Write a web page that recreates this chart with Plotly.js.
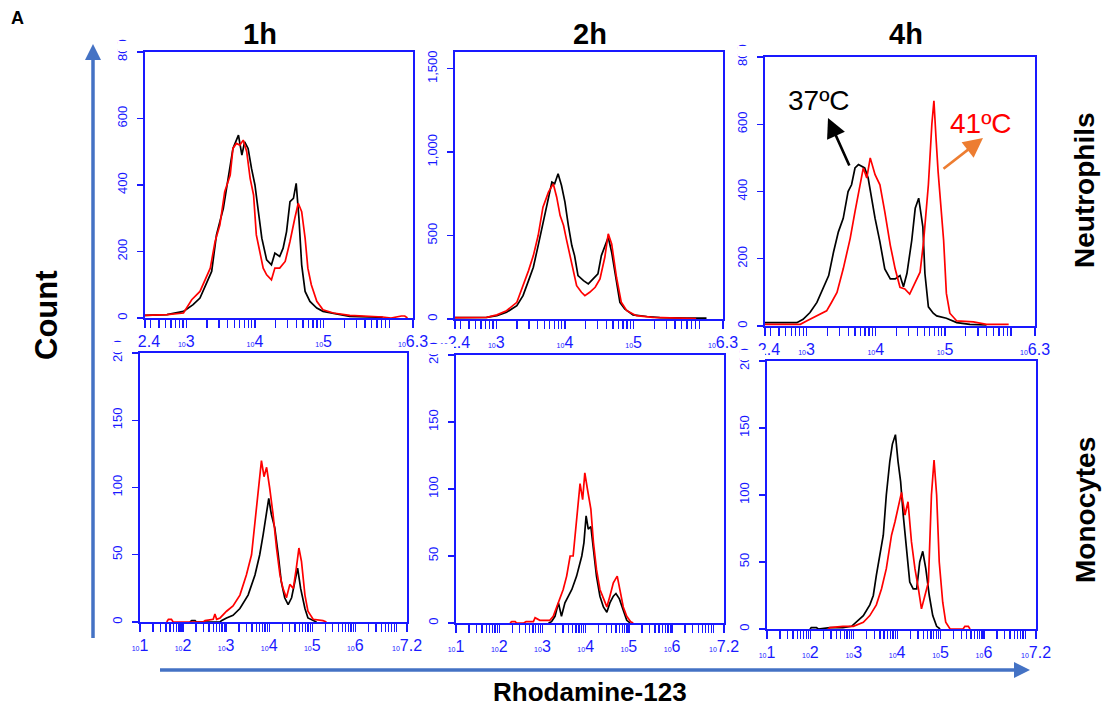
<!DOCTYPE html>
<html>
<head>
<meta charset="utf-8">
<script src="https://cdn.plot.ly/plotly-3.0.1.min.js"></script>
<style>html,body{margin:0;padding:0;background:#fff;}#chart{width:1105px;height:711px;}</style>
</head>
<body>
<div id="chart"></div>
<script>
// ---------------- DATA (x values as log10 exponents of Rhodamine-123 intensity, y = count) ----------------
// Neutrophils 1h
const neu1h_37_e = [2.40,2.72,2.96,3.10,3.20,3.37,3.44,3.54,3.61,3.68,3.76,3.81,3.85,3.90,3.95,4.00,4.05,4.10,4.17,4.24,4.29,4.36,4.41,4.46,4.51,4.56,4.60,4.64,4.68,4.73,4.80,4.90,4.99,5.14,5.38,5.86];
const neu1h_37_y = [8,10,20,40,60,140,250,330,420,510,550,490,530,510,450,400,320,240,175,160,195,185,210,260,350,360,405,300,160,80,50,30,20,15,5,2];
const neu1h_41_e = [2.40,2.72,2.96,3.08,3.20,3.35,3.42,3.49,3.56,3.64,3.68,3.73,3.78,3.83,3.88,3.93,3.98,4.02,4.07,4.12,4.17,4.24,4.29,4.36,4.44,4.51,4.58,4.63,4.68,4.73,4.77,4.82,4.90,4.99,5.14,5.38,5.86,5.98,6.13,6.18,6.22];
const neu1h_41_y = [8,10,15,55,80,150,230,280,380,430,510,525,520,535,500,420,370,250,200,150,130,115,150,150,170,230,300,345,320,240,150,100,50,25,15,8,3,0,6,6,0];
// Neutrophils 2h
const neu2h_37_e = [2.40,2.86,3.01,3.15,3.30,3.39,3.47,3.54,3.61,3.68,3.76,3.81,3.85,3.90,3.95,4.00,4.05,4.10,4.14,4.19,4.27,4.34,4.41,4.48,4.53,4.58,4.63,4.68,4.75,4.80,4.87,4.99,5.19,5.38,5.77,6.06];
const neu2h_37_y = [8,10,20,40,80,140,230,310,440,570,720,820,810,870,800,700,560,440,380,260,230,210,240,270,380,440,490,400,230,100,60,25,15,8,5,5];
const neu2h_41_e = [2.40,2.86,3.01,3.15,3.30,3.39,3.47,3.54,3.61,3.68,3.76,3.83,3.88,3.93,3.98,4.02,4.10,4.17,4.24,4.29,4.36,4.44,4.51,4.58,4.63,4.68,4.75,4.82,4.90,5.04,5.28,5.57,5.91];
const neu2h_41_y = [8,10,25,50,100,200,290,380,500,670,760,810,730,620,560,480,330,200,160,140,160,190,240,370,510,450,250,100,50,20,10,5,3];
// Neutrophils 4h
const neu4h_37_e = [2.40,2.86,2.95,3.05,3.15,3.24,3.32,3.39,3.46,3.53,3.60,3.65,3.70,3.75,3.80,3.84,3.89,3.94,3.99,4.06,4.13,4.21,4.28,4.35,4.40,4.45,4.52,4.57,4.62,4.68,4.71,4.76,4.83,4.88,5.02,5.17,5.36,5.60];
const neu4h_37_y = [10,10,20,40,70,110,150,220,280,320,400,420,470,480,475,470,440,380,320,250,170,140,140,150,117,156,255,350,380,295,156,57,38,30,23,10,5,3];
const neu4h_41_e = [2.40,2.91,3.00,3.15,3.29,3.36,3.44,3.53,3.63,3.70,3.77,3.82,3.87,3.92,3.99,4.06,4.13,4.21,4.28,4.35,4.42,4.49,4.57,4.64,4.69,4.76,4.81,4.84,4.87,4.90,4.98,5.02,5.07,5.17,5.41,5.60,5.92];
const neu4h_41_y = [5,5,15,30,45,70,100,170,260,340,420,470,440,500,450,420,340,240,170,115,110,95,130,160,250,420,600,670,560,460,255,97,38,15,12,5,5];
// Monocytes 1h
const mon1h_37_e = [2.16,2.20,2.28,2.31,2.86,2.89,3.01,3.16,3.32,3.51,3.67,3.78,3.86,3.94,3.99,4.05,4.13,4.21,4.28,4.36,4.44,4.52,4.59,4.66,4.73,4.83,4.90,5.02,5.10];
const mon1h_37_y = [0,1,1,0,0,1,3,5,10,20,35,50,65,80,92,80,70,50,30,18,13,18,28,40,25,10,3,1,0];
const mon1h_41_e = [1.62,1.66,1.73,1.77,2.47,2.51,2.70,2.74,2.78,2.86,3.01,3.16,3.32,3.47,3.59,3.67,3.74,3.82,3.88,3.94,4.01,4.09,4.17,4.25,4.32,4.40,4.48,4.56,4.63,4.69,4.75,4.83,4.90,5.02,5.25,5.33];
const mon1h_41_y = [0,2,2,0,0,1,2,6,2,3,8,12,20,35,50,75,100,120,108,115,100,80,55,35,25,18,28,25,40,55,45,20,8,2,1,0];
// Monocytes 2h
const mon2h_37_e = [3.14,3.21,3.29,3.37,3.44,3.52,3.60,3.68,3.79,3.91,3.96,4.01,4.06,4.12,4.18,4.25,4.33,4.41,4.49,4.56,4.64,4.70,4.78,4.86,4.95,5.03];
const mon2h_37_y = [0,1,5,15,5,15,20,25,35,50,60,80,70,72,55,35,20,12,8,15,20,22,18,10,2,0];
const mon2h_41_e = [2.25,2.29,2.37,2.40,2.57,2.62,2.79,2.83,2.94,3.17,3.25,3.33,3.41,3.48,3.56,3.64,3.71,3.79,3.87,3.93,3.98,4.04,4.12,4.18,4.25,4.33,4.41,4.49,4.56,4.64,4.73,4.79,4.87,4.95,5.04,5.10];
const mon2h_41_y = [0,1,1,0,0,1,1,4,2,2,5,12,20,25,35,50,50,80,104,92,112,100,85,60,40,25,18,12,20,30,35,25,12,5,1,0];
// Monocytes 4h
const mon4h_37_e = [1.99,2.02,2.14,2.18,2.45,2.75,2.95,3.06,3.22,3.37,3.45,3.52,3.60,3.68,3.75,3.83,3.89,3.96,4.02,4.08,4.14,4.22,4.29,4.37,4.45,4.52,4.59,4.66,4.74,4.82,4.91,4.99];
const mon4h_37_y = [0,1,1,0,1,1,2,5,10,18,25,40,55,70,100,125,138,145,125,110,85,55,35,30,30,50,58,45,25,10,2,0];
const mon4h_41_e = [2.41,2.45,2.75,2.99,3.22,3.37,3.52,3.64,3.75,3.87,3.95,4.02,4.10,4.18,4.25,4.33,4.41,4.49,4.56,4.64,4.72,4.79,4.85,4.91,4.97,5.05,5.12,5.22,5.52,5.56,5.64,5.68];
const mon4h_41_y = [0,1,2,2,5,10,18,30,45,70,80,90,102,85,95,65,45,30,15,25,35,100,126,100,50,20,5,0,0,2,2,0];

// Tick labels
const colTitles = ['1h','2h','4h'];
const rowTitles = ['Neutrophils','Monocytes'];
const topXExp = [2.4,3,4,5,6.3];
const topXLabels = ['2.4','3','4','5','6.3'];
const botXExp = [1,2,3,4,5,6,7.2];
const botXLabels = ['1','2','3','4','5','6','7.2'];
const yTicks1 = [0,200,400,600,800];
const yTicks2 = [0,500,1000,1500];
const yLabels2 = ['0','500','1,000','1,500'];
const yTicksMono = [0,50,100,150,200];
const yMax = [800,1600,800,200,200,200];

// ---------------- LAYOUT HELPERS ----------------
const W = 1105, H = 711;
const px = x => x / W;
const py = y => 1 - y / H;
const BLUE = 'rgb(25,25,255)';
const ARROWBLUE = '#4472C4';

// panel frames in pixels [left, right, top, bottom]
const frames = [
  [145,413,52,318],[455,723,52,319],[765,1035,57,326],
  [140,407,353,622],[456,724,355,623],[767,1036,361,629]
];

function minorVals(lo, hi){
  const out=[];
  for(let d=Math.floor(lo); d<=Math.ceil(hi); d++){
    for(let k=2;k<=9;k++){
      const v=k*Math.pow(10,d);
      const l=Math.log10(v);
      if(l>lo+0.005 && l<hi-0.005) out.push(v);
    }
  }
  return out;
}
const tickTxt = s => '<span style="font-size:7px">10</span>' + s;

const series = [
  [neu1h_37_e,neu1h_37_y,neu1h_41_e,neu1h_41_y],
  [neu2h_37_e,neu2h_37_y,neu2h_41_e,neu2h_41_y],
  [neu4h_37_e,neu4h_37_y,neu4h_41_e,neu4h_41_y],
  [mon1h_37_e,mon1h_37_y,mon1h_41_e,mon1h_41_y],
  [mon2h_37_e,mon2h_37_y,mon2h_41_e,mon2h_41_y],
  [mon4h_37_e,mon4h_37_y,mon4h_41_e,mon4h_41_y]
];

const traces=[];
const layout={
  width:W,height:H,margin:{l:0,r:0,t:0,b:0},
  paper_bgcolor:'#fff',plot_bgcolor:'#fff',showlegend:false,
  font:{family:'Liberation Sans, Arial, sans-serif',color:'#000'},
  shapes:[],annotations:[]
};

series.forEach((s,i)=>{
  const n = i+1;
  const xa = n===1?'x':'x'+n, ya = n===1?'y':'y'+n;
  const toX = arr => arr.map(e=>Math.pow(10,e));
  traces.push({x:toX(s[0]),y:s[1],xaxis:xa,yaxis:ya,mode:'lines',line:{color:'#000',width:1.7},hoverinfo:'skip'});
  traces.push({x:toX(s[2]),y:s[3],xaxis:xa,yaxis:ya,mode:'lines',line:{color:'#ff0000',width:1.7},hoverinfo:'skip'});
  const f = frames[i];
  const top = i<3;
  const lo = top?2.4:1, hi = top?6.3:7.2;
  const xe = top?topXExp:botXExp, xl = top?topXLabels:botXLabels;
  let yv, yt;
  if(i===1){yv=yTicks2;yt=yLabels2;}
  else if(top){yv=yTicks1;yt=yTicks1.map(String);}
  else {yv=yTicksMono;yt=yTicksMono.map(String);}
  layout['xaxis'+(n===1?'':n)] = {
    domain:[px(f[0]),px(f[1])], anchor:ya, type:'log', range:[lo,hi],
    showline:true, linecolor:BLUE, linewidth:1.6, mirror:true,
    showgrid:false, zeroline:false,
    ticks:'outside', ticklen:8, tickcolor:BLUE, tickwidth:1.3,
    tickmode:'array', tickvals:xe.map(e=>Math.pow(10,e)), ticktext:xl.map(tickTxt),
    tickfont:{family:'Liberation Sans, Arial, sans-serif',size:16,color:BLUE},
    ticklabelstandoff:0,
    minor:{tickmode:'array',tickvals:minorVals(lo,hi),ticks:'outside',ticklen:8,tickcolor:BLUE,tickwidth:1.3,showgrid:false}
  };
  layout['yaxis'+(n===1?'':n)] = {
    domain:[py(f[3]),py(f[2])], anchor:xa, range:[0,yMax[i]],
    showline:true, linecolor:BLUE, linewidth:1.6, mirror:true,
    showgrid:false, zeroline:false,
    ticks:'outside', ticklen:6, tickcolor:BLUE, tickwidth:1.3,
    tickmode:'array', tickvals:yv, ticktext:yt, tickangle:-90,
    tickfont:{family:'Liberation Sans, Arial, sans-serif',size:13,color:BLUE},
    ticklabelstandoff:5
  };
  // clip tick labels sticking above the frame (as in the cropped reference panels)
  layout.shapes.push({type:'rect',xref:'paper',yref:'paper',layer:'above',
    x0:px(f[0]-27),x1:px(f[0]-2),y0:py(f[2]-1),y1:py(f[2]-11),fillcolor:'#fff',line:{width:0}});
});

// Column titles
[[260,34],[590,34],[906,34]].forEach((p,i)=>{
  layout.annotations.push({xref:'paper',yref:'paper',x:px(p[0]),y:py(p[1]),xanchor:'center',yanchor:'middle',
    text:'<b>'+colTitles[i]+'</b>',showarrow:false,font:{size:29,color:'#000'}});
});
// Row titles
[[1085,190],[1085,510]].forEach((p,i)=>{
  layout.annotations.push({xref:'paper',yref:'paper',x:px(p[0]),y:py(p[1]),xanchor:'center',yanchor:'middle',
    text:'<b>'+rowTitles[i]+'</b>',textangle:-90,showarrow:false,font:{size:28,color:'#000'}});
});
// Axis titles
layout.annotations.push({xref:'paper',yref:'paper',x:px(47),y:py(315),xanchor:'center',yanchor:'middle',
  text:'<b>Count</b>',textangle:-90,showarrow:false,font:{size:31,color:'#000'}});
layout.annotations.push({xref:'paper',yref:'paper',x:px(590),y:py(692),xanchor:'center',yanchor:'middle',
  text:'<b>Rhodamine-123</b>',showarrow:false,font:{size:26,color:'#000'}});
// Panel letter
layout.annotations.push({xref:'paper',yref:'paper',x:px(17),y:py(18),xanchor:'center',yanchor:'middle',
  text:'<b>A</b>',showarrow:false,font:{size:18,color:'#000'}});
// Temperature labels
layout.annotations.push({xref:'paper',yref:'paper',x:px(819),y:py(100),xanchor:'center',yanchor:'middle',
  text:'37ºC',showarrow:false,font:{size:28,color:'#000'}});
layout.annotations.push({xref:'paper',yref:'paper',x:px(981),y:py(124),xanchor:'center',yanchor:'middle',
  text:'41ºC',showarrow:false,font:{size:28,color:'#ff0000'}});
// Pointer arrows
layout.annotations.push({xref:'paper',yref:'paper',x:px(828),y:py(118),ax:22,ay:49,text:'',showarrow:true,
  arrowhead:2,arrowsize:1.5,arrowwidth:2.6,arrowcolor:'#000'});
layout.annotations.push({xref:'paper',yref:'paper',x:px(983),y:py(138),ax:-41,ay:32,text:'',showarrow:true,
  arrowhead:2,arrowsize:1.5,arrowwidth:2.6,arrowcolor:'#ED7D31'});

// Big blue axis arrows
layout.shapes.push({type:'line',xref:'paper',yref:'paper',x0:px(93),x1:px(93),y0:py(638),y1:py(58),line:{color:ARROWBLUE,width:3.5}});
layout.shapes.push({type:'path',xref:'paper',yref:'paper',
  path:`M ${px(85)} ${py(60)} L ${px(101)} ${py(60)} L ${px(93)} ${py(44)} Z`,fillcolor:ARROWBLUE,line:{width:0}});
layout.shapes.push({type:'line',xref:'paper',yref:'paper',x0:px(160),x1:px(1016),y0:py(670),y1:py(670),line:{color:ARROWBLUE,width:3.5}});
layout.shapes.push({type:'path',xref:'paper',yref:'paper',
  path:`M ${px(1014)} ${py(662)} L ${px(1014)} ${py(678)} L ${px(1030)} ${py(670)} Z`,fillcolor:ARROWBLUE,line:{width:0}});

Plotly.newPlot('chart',traces,layout,{staticPlot:true,displayModeBar:false});
</script>
</body>
</html>
